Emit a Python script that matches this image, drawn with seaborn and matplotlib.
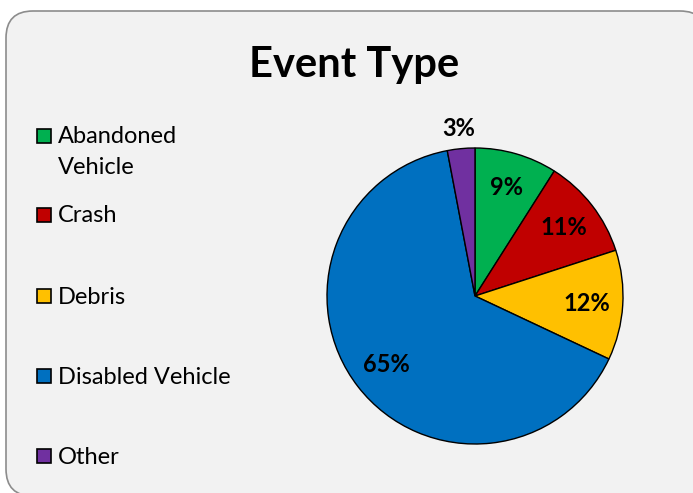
import numpy as np
import matplotlib
matplotlib.use("Agg")
import matplotlib.pyplot as plt
from matplotlib.patches import FancyBboxPatch, Rectangle
import seaborn as sns

categories = ["Abandoned Vehicle", "Crash", "Debris", "Disabled Vehicle", "Other"]
legend_labels = ["Abandoned\nVehicle", "Crash", "Debris", "Disabled Vehicle", "Other"]
values = [9, 11, 12, 65, 3]
colors = ["#00B050", "#C00000", "#FFC000", "#0070C0", "#7030A0"]
title = "Event Type"

sns.set_style("white")
plt.rcParams["font.family"] = ["Lato", "DejaVu Sans"]
palette = sns.color_palette(colors)

W, H, DPI = 6.93, 4.93, 100
fig = plt.figure(figsize=(W, H), dpi=DPI)
fig.patch.set_facecolor("white")


def fx(px):
    return px / 693


def fy(py):
    return 1 - py / 493


# rounded chart area box (in inches)
box = FancyBboxPatch((0.06, -0.03), 7.01, 4.85,
                     boxstyle="round,pad=0,rounding_size=0.27",
                     transform=fig.dpi_scale_trans, facecolor="#F2F2F2",
                     edgecolor="#8C8C8C", linewidth=1.2, zorder=-5)
fig.patches.append(box)

fig.text(fx(354), fy(77), title, ha="center", va="baseline",
         fontsize=30, fontweight="bold", color="black")

# pie axes: center (475,296) px, radius 148 px
R = 148
cx, cy = 475, 493 - 296
half = R * 1.25
ax = fig.add_axes([(cx - half) / 693, (cy - half) / 493, 2 * half / 693, 2 * half / 493])
ax.set_zorder(3)
ax.set_facecolor("none")
wedges, texts, autotexts = ax.pie(values, colors=palette, startangle=90, counterclock=False,
                                  autopct=lambda p: f"{p:.0f}%", pctdistance=0.76,
                                  wedgeprops=dict(edgecolor="black", linewidth=1.0),
                                  textprops=dict(fontsize=17, fontweight="bold", color="black"))
ax.set_xlim(-1.25, 1.25)
ax.set_ylim(-1.25, 1.25)
ax.set_aspect("equal")

# outside label for the small slice
w = wedges[-1]
ang = np.deg2rad((w.theta1 + w.theta2) / 2)
autotexts[-1].set_position((1.14 * np.cos(ang), 1.14 * np.sin(ang)))

# legend (manual)
ys = [135.5, 215, 296, 376, 456]
for lab, col, y in zip(legend_labels, palette, ys):
    fig.patches.append(Rectangle((fx(37), fy(y + 7)), 14 / 693, 14 / 493,
                                 transform=fig.transFigure, facecolor=col,
                                 edgecolor="black", linewidth=1.2, zorder=1))
    for i, line in enumerate(lab.split("\n")):
        fig.text(fx(58), fy(y + 7.5 + 31 * i), line, ha="left", va="baseline",
                 fontsize=17, color="black")

fig.savefig("out.png", dpi=DPI)
